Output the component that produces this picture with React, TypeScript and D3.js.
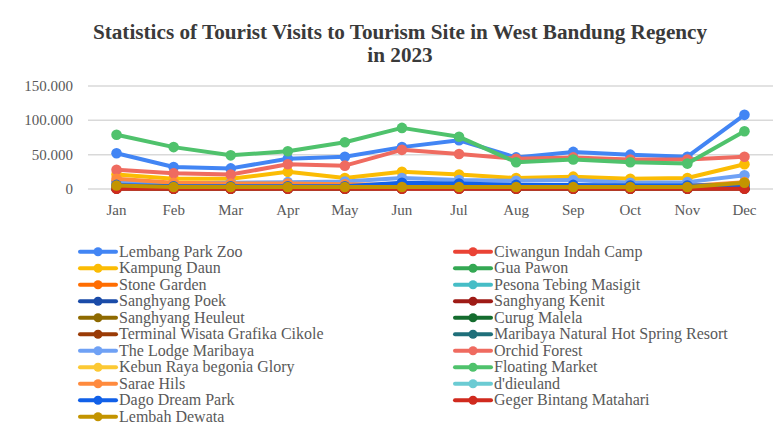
import React from "react";
import * as d3 from "d3";

const months = ["Jan","Feb","Mar","Apr","May","Jun","Jul","Aug","Sep","Oct","Nov","Dec"];
const yTicks = [0, 50000, 100000, 150000];

const seriesNames = [
  "Lembang Park Zoo","Ciwangun Indah Camp","Kampung Daun","Gua Pawon","Stone Garden",
  "Pesona Tebing Masigit","Sanghyang Poek","Sanghyang Kenit","Sanghyang Heuleut","Curug Malela",
  "Terminal Wisata Grafika Cikole","Maribaya Natural Hot Spring Resort","The Lodge Maribaya","Orchid Forest",
  "Kebun Raya begonia Glory","Floating Market","Sarae Hils","d'dieuland","Dago Dream Park",
  "Geger Bintang Matahari","Lembah Dewata"
];

const seriesColors = [
  "#4285F4","#EA4335","#FBBC04","#34A853","#FF6D01",
  "#46BDC6","#1A4BA8","#9E1B16","#8E6A00","#146C2E",
  "#9A3B06","#1F6F7A","#6FA1F5","#EF6B60",
  "#FCC934","#4FC26C","#FF8A3D","#6BCBD3","#1160E8",
  "#D02A1E","#C39400"
];

const lembangParkZoo = [52000,32000,30000,44000,47000,61000,71000,46000,54000,50000,47000,108000];
const ciwangunIndahCamp = [2000,1500,1500,2000,1500,2000,2000,1500,1500,1500,1500,2000];
const kampungDaun = [21000,15000,15000,25000,16000,25000,21000,16000,18000,15000,16000,36000];
const guaPawon = [1000,800,800,1000,900,1200,1100,900,900,800,800,1200];
const stoneGarden = [11000,7000,6000,6000,5000,5000,5000,5000,4000,4000,4000,8000];
const pesonaTebingMasigit = [2500,2000,2000,2500,2000,3000,3000,2500,2500,2000,2000,6000];
const sanghyangPoek = [1500,1200,1200,1500,1300,2000,1800,1500,1500,1300,1300,2000];
const sanghyangKenit = [800,600,600,800,700,900,900,700,700,600,600,900];
const sanghyangHeuleut = [1500,1000,1000,1500,1200,2000,1800,1500,1500,1200,1200,2500];
const curugMalela = [1000,700,700,900,800,1100,1000,800,800,700,700,1100];
const terminalWisataGrafikaCikole = [3000,2000,2000,2500,2000,3000,3000,2500,2500,2000,2000,4000];
const maribayaHotSpring = [3000,2000,3000,6000,3000,4000,3000,2000,2000,2000,2000,5000];
const theLodgeMaribaya = [9000,8000,9000,10000,11000,16000,13000,12000,13000,9000,10000,20000];
const orchidForest = [28000,23000,21000,36000,34000,57000,51000,44000,46000,43000,43000,47000];
const kebunRayaBegoniaGlory = [4000,3000,3000,4000,3000,4000,4000,3000,3000,3000,3000,5000];
const floatingMarket = [79000,61000,49000,55000,68000,89000,76000,39000,43000,39000,37000,84000];
const saraeHils = [15000,9000,8000,8000,7000,6000,5000,5000,5000,4500,4500,10000];
const dDieuland = [3000,2500,2500,3000,2500,3500,3000,2500,2500,2500,2500,4000];
const dagoDreamPark = [6000,4000,4000,4000,4000,9000,8000,6000,6000,5000,5000,6000];
const gegerBintangMatahari = [500,400,400,500,400,500,500,400,400,400,400,500];
const lembahDewata = [5000,3000,3000,3000,3000,3000,3000,3000,3000,3000,3000,9000];

const seriesValues = [
  lembangParkZoo, ciwangunIndahCamp, kampungDaun, guaPawon, stoneGarden,
  pesonaTebingMasigit, sanghyangPoek, sanghyangKenit, sanghyangHeuleut, curugMalela,
  terminalWisataGrafikaCikole, maribayaHotSpring, theLodgeMaribaya, orchidForest,
  kebunRayaBegoniaGlory, floatingMarket, saraeHils, dDieuland, dagoDreamPark,
  gegerBintangMatahari, lembahDewata
];

const W = 777, H = 432;
const plotLeft = 88, plotRight = 773, plotTop = 86, plotBottom = 189;
const serif = "'Liberation Serif', 'Times New Roman', serif";
const textColor = "#595959";

export default function App() {
  const x = d3.scaleBand<string>().domain(months).range([plotLeft, plotRight]);
  const y = d3.scaleLinear().domain([0, 150000]).range([plotBottom, plotTop]);
  const line = d3.line<number>()
    .x((_, i) => (x(months[i]) as number) + x.bandwidth() / 2)
    .y((d) => y(d));
  const fmt = (v: number) => (v === 0 ? "0" : d3.format(",")(v).replace(/,/g, "."));

  const legendTop = 251.7, legendStep = 16.5;

  return (
    <svg width={W} height={H} style={{ position: "absolute", left: 0, top: 0, background: "#fff" }} fontFamily={serif}>
      <rect width={W} height={H} fill="#fff" />
      <text x={400} y={39} textAnchor="middle" fontSize={21.2} fontWeight="bold" fill="#3a3a3a">
        Statistics of Tourist Visits to Tourism Site in West Bandung Regency
      </text>
      <text x={400} y={62} textAnchor="middle" fontSize={21.2} fontWeight="bold" fill="#3a3a3a">
        in 2023
      </text>
      {yTicks.map((t) => (
        <g key={t}>
          <line x1={plotLeft} x2={plotRight} y1={y(t)} y2={y(t)} stroke="#d9d9d9" strokeWidth={1.5} />
          <text x={73} y={y(t) + 5} textAnchor="end" fontSize={15} fill={textColor}>{fmt(t)}</text>
        </g>
      ))}
      {months.map((m) => (
        <text key={m} x={(x(m) as number) + x.bandwidth() / 2} y={215} textAnchor="middle" fontSize={15} fill={textColor}>{m}</text>
      ))}
      {seriesValues.map((vals, si) => (
        <g key={seriesNames[si]}>
          <path d={line(vals) || ""} fill="none" stroke={seriesColors[si]} strokeWidth={4} strokeLinejoin="round" />
          {vals.map((v, i) => (
            <circle key={i} cx={(x(months[i]) as number) + x.bandwidth() / 2} cy={y(v)} r={5.3} fill={seriesColors[si]} />
          ))}
        </g>
      ))}
      {seriesNames.map((name, si) => {
        const col = si % 2;
        const row = Math.floor(si / 2);
        const lx = col === 0 ? 80 : 455;
        const cy = legendTop + row * legendStep;
        return (
          <g key={name}>
            <line x1={lx} x2={lx + 36} y1={cy} y2={cy} stroke={seriesColors[si]} strokeWidth={4} strokeLinecap="round" />
            <circle cx={lx + 18} cy={cy} r={4.5} fill={seriesColors[si]} />
            <text x={lx + 39} y={cy + 5} fontSize={16} fill={textColor}>{name}</text>
          </g>
        );
      })}
    </svg>
  );
}
